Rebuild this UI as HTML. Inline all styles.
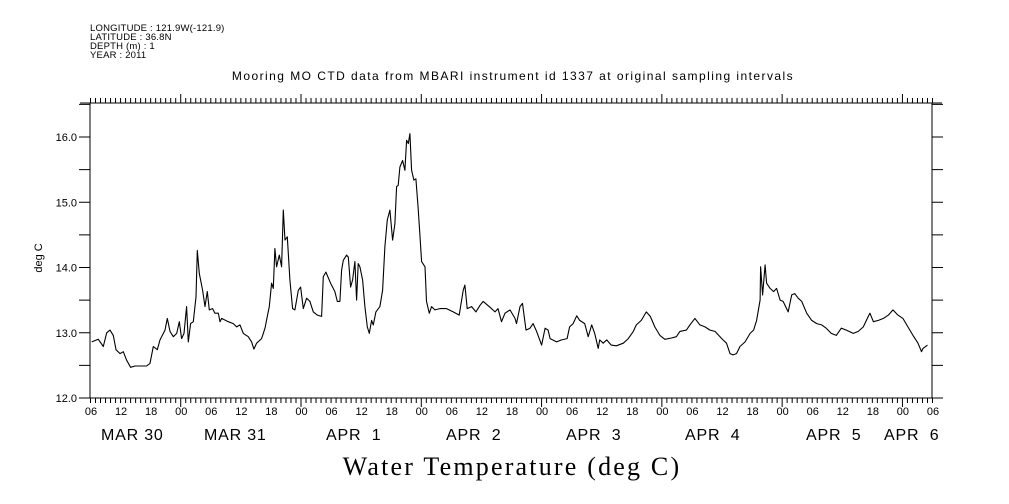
<!DOCTYPE html>
<html><head><meta charset="utf-8"><style>
html,body{margin:0;padding:0;background:#fff;}
svg{display:block;font-family:"Liberation Sans",sans-serif;}
</style></head><body>
<svg id="chart" width="1009" height="504" viewBox="0 0 1009 504" xmlns="http://www.w3.org/2000/svg">
<g font-size="9.5" fill="#000" letter-spacing="0.2">
<text x="90" y="31">LONGITUDE : 121.9W(-121.9)</text>
<text x="90" y="40">LATITUDE : 36.8N</text>
<text x="90" y="49">DEPTH (m) : 1</text>
<text x="90" y="58">YEAR : 2011</text>
</g>
<text x="513" y="80" font-size="12" text-anchor="middle" letter-spacing="1.45">Mooring MO CTD data from MBARI instrument id 1337 at original sampling intervals</text>
<text transform="translate(42,258) rotate(-90)" font-size="11" text-anchor="middle">deg C</text>
<text x="512" y="475" font-size="26" text-anchor="middle" font-family="Liberation Serif,serif" letter-spacing="2.2">Water Temperature (deg C)</text>
<g id="axes"></g>
<g id="series"></g>
</svg>
<script>
const hours=[0.33,1.66,2.66,3.33,3.99,4.65,5.19,5.98,6.65,7.31,8.11,8.98,10.31,11.30,11.97,12.63,13.43,13.96,14.96,15.43,15.96,16.62,17.29,17.82,18.28,18.75,19.28,19.61,20.08,20.61,21.14,21.41,21.81,22.47,22.94,23.40,23.80,24.47,24.93,25.60,25.93,26.26,27.59,28.59,29.26,29.92,30.59,31.58,32.25,32.71,33.24,34.24,34.91,35.37,35.77,36.24,36.57,36.90,37.23,37.77,38.23,38.56,38.90,39.36,39.89,40.43,40.89,41.56,42.02,42.55,43.22,43.88,44.55,45.35,46.21,46.54,47.07,48.01,48.87,49.34,49.87,50.20,50.53,51.20,51.53,51.99,52.39,52.86,53.19,53.52,53.86,54.39,54.85,55.32,55.72,56.18,56.52,57.05,57.85,58.38,58.84,59.31,59.84,60.37,60.84,61.17,61.50,61.84,62.37,62.83,63.16,63.50,63.83,64.16,64.63,65.03,65.49,65.83,66.16,66.84,67.15,67.69,68.15,68.82,69.81,71.14,72.47,73.67,74.47,74.80,75.27,76.13,77.00,77.81,78.46,80.1,80.8,81.4,82.1,82.8,83.8,84.8,85.1,85.8,86.3,87.0,87.8,88.4,89.1,90.1,90.8,91.4,91.8,93.1,94.1,95.2,95.7,96.4,97.1,97.7,98.7,99.4,100.1,100.7,101.4,101.7,102.4,103.1,104.0,105.0,106.4,107.4,108.4,109.0,110.0,111.0,111.8,112.7,113.7,114.7,116.0,117.0,117.7,119.0,119.7,120.7,121.7,122.7,123.7,124.7,125.7,126.3,127.0,127.7,128.3,129.0,129.7,130.7,131.7,132.4,133.0,133.7,133.8,134.2,134.7,135.0,135.7,136.4,137.0,137.7,138.3,139.3,140.0,140.6,141.3,142.0,143.0,144.0,145.0,146.0,146.9,147.9,148.9,149.9,150.9,152.3,153.3,154.3,155.3,155.6,156.3,157.3,158.3,159.3,160.2,161.2,162.2,163.2,164.2,165.2,165.9,166.2,167.1];
const temps=[12.86,12.90,12.79,13.00,13.04,12.96,12.74,12.68,12.71,12.58,12.47,12.49,12.49,12.49,12.53,12.79,12.74,12.89,13.04,13.22,13.02,12.94,12.99,13.17,12.91,12.99,13.40,12.86,13.14,13.17,13.55,14.26,13.91,13.65,13.40,13.63,13.35,13.37,13.30,13.30,13.17,13.22,13.17,13.14,13.09,13.12,12.99,12.94,12.86,12.75,12.84,12.91,13.07,13.25,13.40,13.76,13.68,14.29,14.01,14.19,14.01,14.88,14.42,14.47,13.81,13.37,13.35,13.65,13.70,13.37,13.53,13.48,13.32,13.27,13.25,13.86,13.93,13.76,13.63,13.48,13.48,13.96,14.11,14.19,14.16,13.70,13.81,14.09,13.50,14.06,14.01,13.81,13.40,13.09,12.99,13.19,13.12,13.32,13.40,13.65,14.32,14.73,14.88,14.42,14.67,15.24,15.26,15.54,15.64,15.49,15.95,15.90,16.05,15.49,15.34,15.36,14.90,14.50,14.09,14.01,13.48,13.30,13.40,13.35,13.37,13.37,13.32,13.27,13.65,13.73,13.37,13.40,13.32,13.42,13.48,13.37,13.32,13.37,13.17,13.30,13.35,13.22,13.14,13.40,13.45,13.04,13.07,13.14,13.02,12.81,13.07,13.04,12.91,12.86,12.89,12.91,13.09,13.14,13.26,13.19,13.14,12.94,13.12,12.99,12.76,12.89,12.84,12.89,12.81,12.80,12.84,12.91,13.02,13.12,13.19,13.32,13.25,13.09,12.96,12.90,12.92,12.94,13.02,13.04,13.12,13.22,13.12,13.09,13.04,13.02,12.94,12.89,12.84,12.68,12.66,12.68,12.79,12.86,12.99,13.04,13.19,13.50,14.01,13.58,14.04,13.76,13.68,13.63,13.68,13.50,13.48,13.32,13.58,13.60,13.53,13.48,13.30,13.19,13.14,13.12,13.07,12.99,12.96,13.07,13.04,12.99,13.02,13.09,13.25,13.30,13.17,13.19,13.22,13.27,13.35,13.27,13.22,13.09,12.96,12.84,12.71,12.76,12.81];
const yTickLabels=["12.0","13.0","14.0","15.0","16.0"];
const yTickValues=[12,13,14,15,16];
const hourLabels=["06","12","18","00"];
const dayLabels=["MAR 30","MAR 31","APR  1","APR  2","APR  3","APR  4","APR  5","APR  6"];
const dayLabelX=[101,204,326,446,566,685,806,884];

const X0=90,X1=932,Y0=398,Y1=103,HMAX=168,VMIN=12,VPX=65.25;
const sx=h=>X0+(X1-X0)*h/HMAX;
const sy=v=>Y0-(v-VMIN)*VPX;
const NS="http://www.w3.org/2000/svg";
const axes=document.getElementById('axes');
function mk(tag,attrs,parent){const e=document.createElementNS(NS,tag);for(const k in attrs)e.setAttribute(k,attrs[k]);parent.appendChild(e);return e;}
let d="";
d+=`M${X0-10},${Y0}H${X1+10}M${X0-10},${Y1}H${X1+10}M${X0},${Y1}V${Y0}M${X1},${Y1}V${Y0}`;
for(let h=0;h<=HMAX;h++){const x=sx(h)+0.5;const major=((h+6)%24===0);const L=major?9:5;
 d+=`M${x},${Y0}v${L}M${x},${Y1}v${-L}`;}
for(let v=12;v<=16.5;v+=0.5){const y=sy(v);d+=`M${X0-11},${y}H${X0}M${X1},${y}H${X1+11}`;}
const fr=mk('path',{d:d,stroke:'#000','stroke-width':1,fill:'none'},axes);


yTickValues.forEach((v,i)=>{const t=mk('text',{x:77,y:sy(v)+4,'font-size':11,'text-anchor':'end'},axes);t.textContent=yTickLabels[i];
 
 });
for(let h=0;h<=HMAX;h+=6){const t=mk('text',{x:sx(h)+1,y:415,'font-size':11,'text-anchor':'middle'},axes);t.textContent=hourLabels[(h/6)%4];
 
 }
dayLabels.forEach((s,i)=>{const t=mk('text',{x:dayLabelX[i],y:440,'font-size':16,'letter-spacing':'0.8'},axes);t.setAttribute('style','white-space:pre');t.textContent=s;
 
 });
let p="";hours.forEach((h,i)=>{p+=(i?"L":"M")+sx(h).toFixed(1)+","+sy(temps[i]).toFixed(1);});
const line=mk('path',{d:p,stroke:'#000','stroke-width':1.1,fill:'none','stroke-linejoin':'round'},document.getElementById('series'));


</script>
</body></html>
